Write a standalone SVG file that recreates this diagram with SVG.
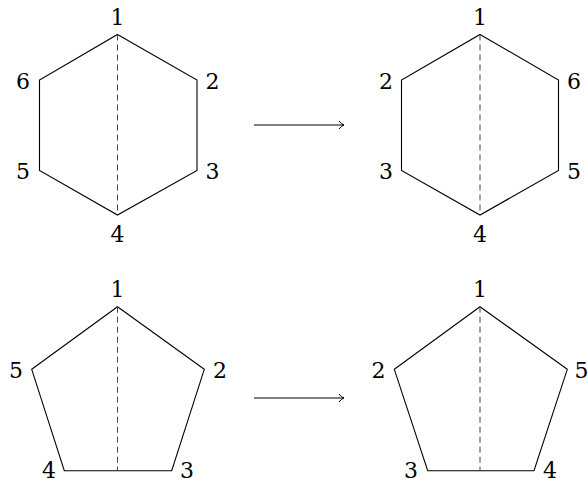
<svg xmlns="http://www.w3.org/2000/svg" width="588" height="483" viewBox="0 0 588 483">
<style>
.shape{fill:none;stroke:#000;stroke-width:1.1;stroke-linejoin:miter}
.dash{stroke:#444;stroke-width:1;stroke-dasharray:6,4;fill:none}
.conn{stroke:#000;stroke-width:1;fill:none}
</style>
<defs>
<marker id="arr" markerWidth="8" markerHeight="10" refX="6" refY="5" orient="auto" markerUnits="userSpaceOnUse">
<path d="M1,1 Q3,4 6,5 Q3,6 1,9" fill="none" stroke="#000" stroke-width="1"/>
</marker>
</defs>
<g font-family="DejaVu Serif, serif" font-size="22" text-anchor="middle" fill="#000">
<g id="hex-left">
<polygon class="shape" points="117.5,34.5 197,80 197,170.5 117.5,215 39.5,170.5 39.5,80"/>
<line class="dash" x1="117.5" y1="34.5" x2="117.5" y2="215"/>
<text x="117.5" y="25">1</text>
<text x="212.5" y="89">2</text>
<text x="212.5" y="179">3</text>
<text x="117.5" y="242">4</text>
<text x="23" y="179">5</text>
<text x="23" y="89">6</text>
</g>
<g id="hex-right">
<polygon class="shape" points="480,34.5 558.5,80 558.5,170.5 480,215 401.5,170.5 401.5,80"/>
<line class="dash" x1="480" y1="34.5" x2="480" y2="215"/>
<text x="480" y="25">1</text>
<text x="386" y="89">2</text>
<text x="386" y="179">3</text>
<text x="480" y="242">4</text>
<text x="574" y="179">5</text>
<text x="574" y="89">6</text>
</g>
<g id="pent-left">
<polygon class="shape" points="117.5,306.7 204.3,369.3 171.7,470.7 64.3,470.7 31.7,369.3"/>
<line class="dash" x1="117.5" y1="306.7" x2="117.5" y2="470.7"/>
<text x="117.5" y="297">1</text>
<text x="220" y="378">2</text>
<text x="187" y="478">3</text>
<text x="49" y="478">4</text>
<text x="16" y="378">5</text>
</g>
<g id="pent-right">
<polygon class="shape" points="480,306.7 567.3,369.3 534,470.7 427.7,470.7 394.3,369.3"/>
<line class="dash" x1="480" y1="306.7" x2="480" y2="470.7"/>
<text x="480" y="297">1</text>
<text x="378.5" y="378">2</text>
<text x="411" y="478">3</text>
<text x="550" y="478">4</text>
<text x="581.5" y="378">5</text>
</g>
</g>
<g id="connectors">
<line class="conn" x1="254" y1="125" x2="344" y2="125" marker-end="url(#arr)"/>
<line class="conn" x1="254" y1="398" x2="344" y2="398" marker-end="url(#arr)"/>
</g>
</svg>
